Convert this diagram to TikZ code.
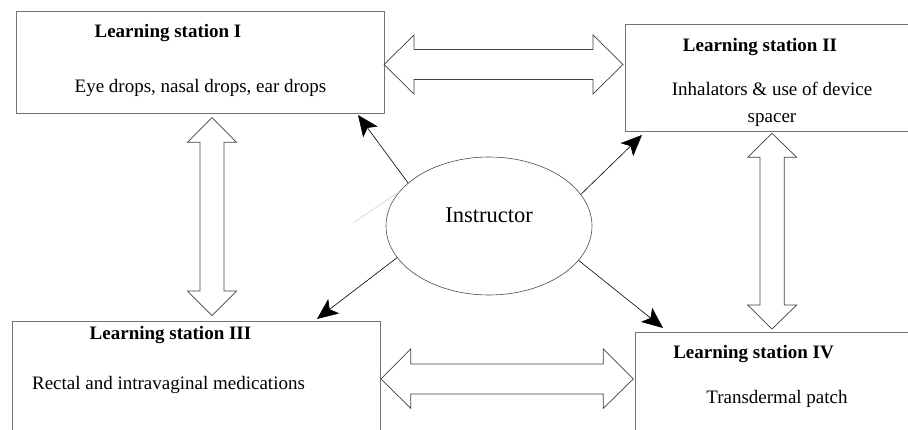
\documentclass[tikz,border=0pt]{standalone}
\usepackage{fontspec}
\setmainfont{LiberationSerif}[Extension=.ttf, UprightFont=*-Regular, BoldFont=*-Bold, ItalicFont=*-Italic, BoldItalicFont=*-BoldItalic]
\usetikzlibrary{shapes.geometric,arrows.meta}
\begin{document}
\begin{tikzpicture}[x=1pt,y=-1pt,
  stationbox/.style={draw=black!55, line width=0.8pt, rectangle, inner sep=0pt},
  ttl/.style={anchor=base, font=\fontsize{19}{23}\selectfont\bfseries, inner sep=0pt},
  bodytext/.style={anchor=base, font=\fontsize{19}{23}\selectfont, inner sep=0pt},
  blockarrow/.style={draw=black!75, line width=0.7pt, fill=white, line join=miter},
  ptr/.style={draw=black, line width=0.6pt, -{Stealth[length=21pt,width=18pt,inset=5pt]}},
]
\useasboundingbox (0,0) rectangle (908,430);
\clip (0,0) rectangle (908,430);

% station boxes
\node[stationbox, minimum width=368pt, minimum height=102pt] (s1) at (200,62) {};
\node[stationbox, minimum width=295pt, minimum height=107pt] (s2) at (772.5,77.5) {};
\node[stationbox, minimum width=368pt, minimum height=124pt] (s3) at (196,383) {};
\node[stationbox, minimum width=285pt, minimum height=113pt] (s4) at (777.5,388.5) {};

% texts
\node[ttl] (t1) at (168,38) {Learning station I};
\node[bodytext] (b1) at (200.5,93) {Eye drops, nasal drops, ear drops};
\node[ttl] (t2) at (760,52) {Learning station II};
\node[bodytext] (b2a) at (772,96) {Inhalators \& use of device};
\node[bodytext] (b2b) at (772,123) {spacer};
\node[ttl] (t3) at (170.5,340) {Learning station III};
\node[bodytext] (b3) at (168.5,389) {Rectal and intravaginal medications};
\node[ttl] (t4) at (753.5,359) {Learning station IV};
\node[bodytext] (b4) at (777,403) {Transdermal patch};

% instructor ellipse
\node[ellipse, draw=black!70, line width=0.6pt, minimum width=206pt, minimum height=138pt, inner sep=0pt] (ins) at (489,226) {};
\node[anchor=base, font=\fontsize{22.5}{26}\selectfont, inner sep=0pt] (inslabel) at (489,223) {Instructor};

% block double arrows
\draw[blockarrow] (384,64.5) -- (414,35) -- (414,49.5) -- (593,49.5) -- (593,35) -- (623,64.5)
  -- (593,94) -- (593,79.5) -- (414,79.5) -- (414,94) -- cycle;
\draw[blockarrow] (212,117.5) -- (236.5,142.3) -- (224,142.3) -- (224,291) -- (236.5,291)
  -- (212,315.7) -- (187.5,291) -- (200,291) -- (200,142.3) -- (187.5,142.3) -- cycle;
\draw[blockarrow] (772,133.3) -- (796.7,157.3) -- (784.3,157.3) -- (784.3,305) -- (796.7,305)
  -- (772,329) -- (747.7,305) -- (760,305) -- (760,157.3) -- (747.7,157.3) -- cycle;
\draw[blockarrow] (381,379) -- (410.7,349) -- (410.7,364) -- (603.3,364) -- (603.3,349) -- (633.3,379)
  -- (603.3,408.3) -- (603.3,394) -- (410.7,394) -- (410.7,408.3) -- cycle;

% pointer arrows from instructor
\coordinate (p1) at (358,115);
\coordinate (p2) at (642,135);
\coordinate (p3) at (317,319);
\coordinate (p4) at (663,328);
\coordinate (faint) at (353,223);
\draw[ptr] (ins.152) -- (p1);
\draw[ptr] (ins.19.7) -- (p2);
\draw[ptr] (ins.199.3) -- (p3);
\draw[ptr] (ins.339.4) -- (p4);
\draw[black!15, line width=0.8pt] (ins.159.5) -- (faint);
\end{tikzpicture}
\end{document}
